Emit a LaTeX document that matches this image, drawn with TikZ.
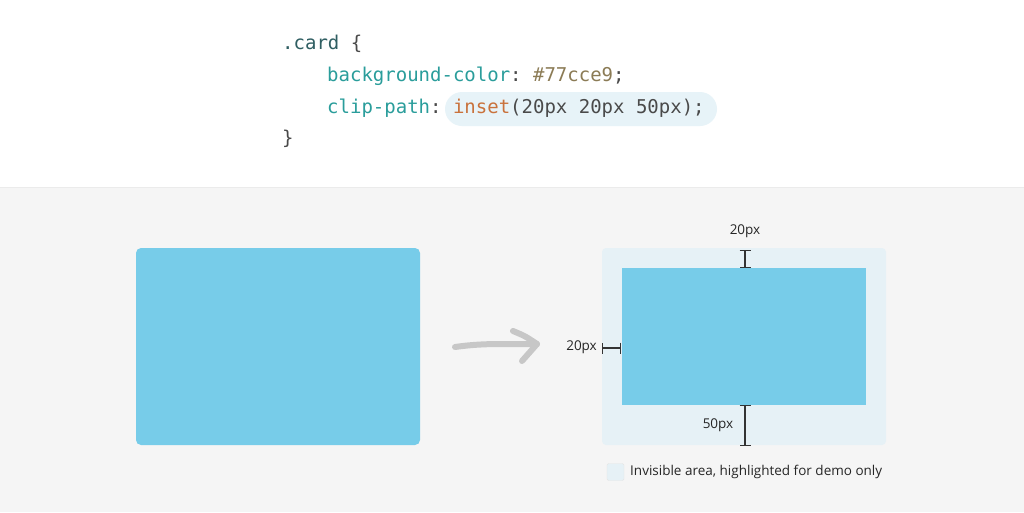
\documentclass[tikz,border=0pt]{standalone}
\usepackage{fontspec}
\setmainfont{Open Sans}
\setmonofont{DejaVu Sans Mono}
\usepackage{tikz}
\usetikzlibrary{arrows.meta}

\definecolor{cardblue}{HTML}{77CCE9}
\definecolor{ghost}{HTML}{E6F1F6}
\definecolor{band}{HTML}{F5F5F5}
\definecolor{selector}{HTML}{2F5E62}
\definecolor{prop}{HTML}{2A9D9B}
\definecolor{hexval}{HTML}{8B7B55}
\definecolor{func}{HTML}{C9723C}
\definecolor{plain}{HTML}{4A4A4A}
\definecolor{pill}{HTML}{E7F3F8}

\tikzset{
  code/.style={anchor=base west, inner sep=0, font=\ttfamily\fontsize{19}{23}\selectfont},
  dimlabel/.style={inner sep=0, text=black!85, font=\fontsize{13.5}{16}\selectfont},
  dimline/.style={draw=black!80, line width=1.3pt, {Bar[width=11pt]}-{Bar[width=11pt]}},
  arrowline/.style={draw=black!22, line width=6pt, line cap=round, line join=round}
}

\begin{document}
\begin{tikzpicture}[x=1pt, y=-1pt]
                  % Background
                  \useasboundingbox (0,0) rectangle (1024,512);
                  \fill [white] (0,0) rectangle (1024,187);
                  \fill [band] (0,187) rectangle (1024,512);
                  \draw [black!8, line width=1pt] (0,187) -- (1024,187);

                  % Code
                  \fill [pill, rounded corners=17pt] (445,92) rectangle (717,126);
                  \node [code, text=selector] (sel) at (282,49) {.card \textcolor{plain}{\{}};
                  \node [code, text=prop] (bg) at (327,81) {background-color\textcolor{plain}{:} \textcolor{hexval}{\#77cce9}\textcolor{plain}{;}};
                  \node [code, text=prop] (clip) at (327,113) {clip-path\textcolor{plain}{:} \textcolor{func}{inset}\textcolor{plain}{(20px 20px 50px);}};
                  \node [code, text=plain] (close) at (282,144) {\}};

                  % Cards
                  \node [fill=cardblue, rounded corners=5pt, minimum width=284pt, minimum height=197pt, inner sep=0] (card) at (278,346.5) {};
                  \node [fill=ghost, rounded corners=4pt, minimum width=284pt, minimum height=197pt, inner sep=0] (clipbox) at (744,346.5) {};
                  \node [fill=cardblue, minimum width=244pt, minimum height=137pt, inner sep=0] (clipped) at (744,336.5) {};

                  % Arrow
                  \draw [arrowline] (455,347) .. controls (490,342) and (515,345) .. (537,344);
                  \draw [arrowline] (513,331) .. controls (525,336) .. (537,344) .. controls (530,352) .. (522,361);

                  % Dimensions
                  \coordinate (topA) at (745,250);
                  \coordinate (topB) at (745,268);
                  \coordinate (leftA) at (602,348);
                  \coordinate (leftB) at (621,348);
                  \coordinate (botA) at (745,405);
                  \coordinate (botB) at (745,446);
                  \draw [dimline] (topA) -- (topB);
                  \draw [dimline] (leftA) -- (leftB);
                  \draw [dimline] (botA) -- (botB);
                  \node [dimlabel] (toplbl) at (745,231) {20px};
                  \node [dimlabel, anchor=east] (leftlbl) at (597,347) {20px};
                  \node [dimlabel] (botlbl) at (718,425) {50px};

                  % Legend
                  \node [fill=ghost, draw=black!10, rounded corners=1.5pt, minimum size=17pt, inner sep=0] (key) at (615.5,472) {};
                  \node [dimlabel, anchor=west] (keylbl) at (630,472) {Invisible area, highlighted for demo only};
\end{tikzpicture}
\end{document}
